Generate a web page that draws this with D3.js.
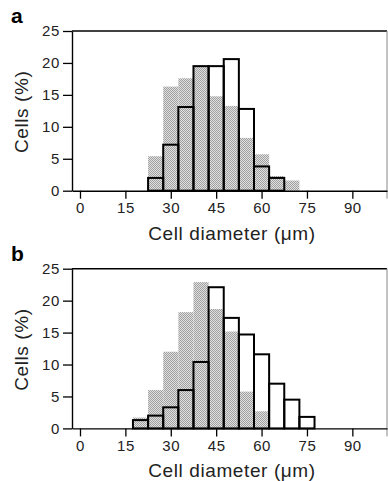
<!DOCTYPE html>
<html>
<head>
<meta charset="utf-8">
<script src="https://cdn.jsdelivr.net/npm/d3@7"></script>
<style>
  body { margin: 0; background: #fff; }
  svg { display: block; }
  text { font-family: "Liberation Sans", Arial, sans-serif; }
</style>
</head>
<body>
<div id="chart"></div>
<script>
// bin centres (µm), 5 µm wide bins
const binsA = [20, 25, 30, 35, 40, 45, 50, 55, 60, 65, 70];
const grayA = [0, 5.4, 16.3, 17.6, 19.5, 14.8, 13.3, 8.3, 5.7, 2.3, 1.6];
const openA = [0, 2.0, 7.2, 13.1, 19.5, 19.5, 20.6, 12.8, 3.8, 2.0, 0];

const binsB = [20, 25, 30, 35, 40, 45, 50, 55, 60, 65, 70, 75];
const grayB = [1.7, 6.0, 12.0, 18.2, 22.9, 18.7, 15.2, 5.8, 2.7, 0, 0, 0];
const openB = [1.3, 2.0, 3.3, 6.0, 10.4, 22.1, 17.3, 14.7, 11.6, 7.0, 4.5, 1.8];

const xTicks = [0, 15, 30, 45, 60, 75, 90];
const yTicks = [0, 5, 10, 15, 20, 25];
const binWidth = 5;

const W = 388, H = 481;
const svg = d3.select('#chart').append('svg')
    .attr('width', W)
    .attr('height', H);

// stippled gray fill
const defs = svg.append('defs');
const pat = defs.append('pattern')
    .attr('id', 'stipple')
    .attr('width', 2).attr('height', 2)
    .attr('patternUnits', 'userSpaceOnUse');
pat.append('rect').attr('width', 2).attr('height', 2).attr('fill', '#e0e0e0');
pat.append('rect').attr('width', 1).attr('height', 1).attr('fill', '#a0a0a0');
pat.append('rect').attr('x', 1).attr('y', 1).attr('width', 1).attr('height', 1).attr('fill', '#a0a0a0');

const x = d3.scaleLinear().domain([-2.64, 101.45]).range([72, 387]);

function drawPanel(letter, top, bins, gray, open) {
    const y = d3.scaleLinear().domain([0, 25]).range([top + 159.7, top]);
    const g = svg.append('g');
    const rows = bins.map((b, i) => ({ b: b, gv: gray[i], ov: open[i] }));
    const x0 = d => x(d.b - binWidth / 2);
    const bw = d => x(d.b + binWidth / 2) - x(d.b - binWidth / 2);

    // gray (stippled) bars
    g.selectAll('.gbar')
        .data(rows.filter(d => d.gv > 0))
        .enter().append('rect')
        .attr('class', 'gbar')
        .attr('x', x0).attr('width', bw)
        .attr('y', d => y(d.gv))
        .attr('height', d => y(0) - y(d.gv))
        .attr('fill', 'url(#stipple)');

    // white part of open bars above the gray
    g.selectAll('.wbar')
        .data(rows.filter(d => d.ov > d.gv))
        .enter().append('rect')
        .attr('class', 'wbar')
        .attr('x', x0).attr('width', bw)
        .attr('y', d => y(d.ov))
        .attr('height', d => y(d.gv) - y(d.ov))
        .attr('fill', '#fff');

    // open bars, outlined in black
    g.selectAll('.obar')
        .data(rows.filter(d => d.ov > 0))
        .enter().append('rect')
        .attr('class', 'obar')
        .attr('x', x0).attr('width', bw)
        .attr('y', d => y(d.ov))
        .attr('height', d => y(0) - y(d.ov))
        .attr('fill', 'none')
        .attr('stroke', '#000')
        .attr('stroke-width', 2);

    // frame: top and right
    g.append('line')
        .attr('x1', x.range()[0]).attr('x2', x.range()[1])
        .attr('y1', y(25)).attr('y2', y(25))
        .attr('stroke', '#000').attr('stroke-width', 1.4);
    g.append('line')
        .attr('x1', x.range()[1]).attr('x2', x.range()[1])
        .attr('y1', y(25)).attr('y2', y(0) + 8)
        .attr('stroke', '#888').attr('stroke-width', 1);

    // axes
    const xAxis = g.append('g')
        .attr('transform', `translate(0, ${y(0)})`)
        .call(d3.axisBottom(x).tickValues(xTicks).tickSize(8).tickPadding(4).tickSizeOuter(0));
    xAxis.select('.domain').attr('stroke-width', 1.4);
    xAxis.selectAll('.tick line').attr('stroke-width', 1.3);
    xAxis.selectAll('.tick text')
        .style('font-size', '15px').style('font-family', 'Liberation Sans, Arial, sans-serif')
        .style('letter-spacing', '0.6px')
        .attr('fill', '#222');

    const yAxis = g.append('g')
        .attr('transform', `translate(${x.range()[0]}, 0)`)
        .call(d3.axisLeft(y).tickValues(yTicks).tickSize(9).tickPadding(3).tickSizeOuter(0));
    yAxis.select('.domain').attr('stroke-width', 1.4);
    yAxis.selectAll('.tick line').attr('stroke-width', 1.3);
    yAxis.selectAll('.tick text')
        .style('font-size', '15px').style('font-family', 'Liberation Sans, Arial, sans-serif')
        .style('letter-spacing', '0.6px')
        .attr('fill', '#222');

    // labels
    g.append('text')
        .attr('x', 11).attr('y', top - 8)
        .attr('font-weight', 'bold').attr('font-size', 21)
        .text(letter);

    g.append('text')
        .attr('transform', `translate(28, ${y(12.5) + 1}) rotate(-90)`)
        .attr('text-anchor', 'middle')
        .attr('font-size', 19).attr('fill', '#222')
        .style('letter-spacing', '0.6px')
        .text('Cells (%)');

    g.append('text')
        .attr('x', 232).attr('y', y(0) + 49)
        .attr('text-anchor', 'middle')
        .attr('font-size', 19).attr('fill', '#222')
        .style('letter-spacing', '0.6px')
        .text('Cell diameter (\u03bcm)');
}

drawPanel('a', 31, binsA, grayA, openA);
drawPanel('b', 268.7, binsB, grayB, openB);
</script>
</body>
</html>
